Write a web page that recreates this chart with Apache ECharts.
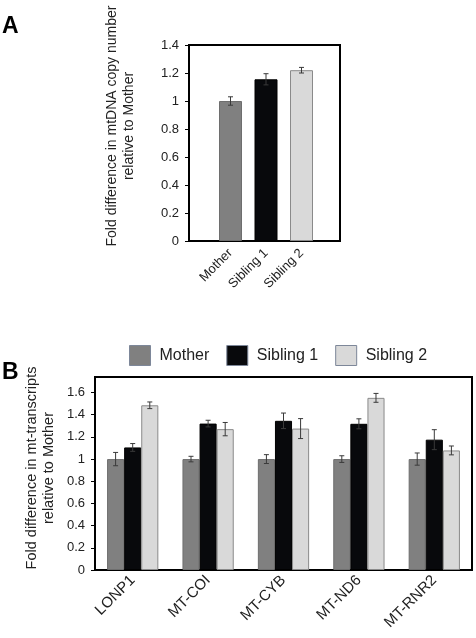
<!DOCTYPE html>
<html><head><meta charset="utf-8">
<script src="https://cdn.jsdelivr.net/npm/echarts@6/dist/echarts.min.js"></script>
<style>html,body{margin:0;padding:0;background:#fff}#c{width:476px;height:638px}</style>
</head><body><div id="c"></div>
<script>
// ---- Panel A data ----
const catsA = ['Mother', 'Sibling 1', 'Sibling 2'];
const valsA = [1.0, 1.155, 1.22];
const errA = [0.03, 0.04, 0.02];
// ---- Panel B data ----
const genes = ['LONP1', 'MT-COI', 'MT-CYB', 'MT-ND6', 'MT-RNR2'];
const seriesNames = ['Mother', 'Sibling 1', 'Sibling 2'];
const mother = [1.0, 1.0, 1.0, 1.0, 1.0];
const motherErr = [0.06, 0.025, 0.04, 0.03, 0.055];
const sib1 = [1.105, 1.32, 1.345, 1.318, 1.175];
const sib1Err = [0.035, 0.03, 0.07, 0.045, 0.09];
const sib2 = [1.485, 1.27, 1.275, 1.552, 1.078];
const sib2Err = [0.03, 0.06, 0.09, 0.04, 0.04];

const colors = ['#808080', '#08090c', '#d9d9d9'];
const borders = ['#6e6e6e', '#000000', '#8a8a8a'];
const FONT = 'Liberation Sans, Arial, sans-serif';

const chart = echarts.init(document.getElementById('c'));

function errRender(offsetIdx, nSeries, gapRatio) {
  return function (params, api) {
    const x = api.value(0), v = api.value(1), e = api.value(2);
    const band = api.size([1, 0])[0];
    let off = 0;
    if (nSeries > 1) {
      const bw = band * (1 - gapRatio) / nSeries;
      off = (offsetIdx - (nSeries - 1) / 2) * bw;
    }
    const hi = api.coord([x, v + e]);
    const lo = api.coord([x, v - e]);
    const cx = hi[0] + off;
    const cap = 2.5;
    const st = { stroke: '#3a3a3a', lineWidth: 1 };
    return {
      type: 'group',
      children: [
        { type: 'line', shape: { x1: cx, y1: hi[1], x2: cx, y2: lo[1] }, style: st },
        { type: 'line', shape: { x1: cx - cap, y1: hi[1], x2: cx + cap, y2: hi[1] }, style: st },
        { type: 'line', shape: { x1: cx - cap, y1: lo[1], x2: cx + cap, y2: lo[1] }, style: st }
      ]
    };
  };
}

const bVals = [mother, sib1, sib2];
const bErrs = [motherErr, sib1Err, sib2Err];

const series = [];
series.push({
  type: 'bar', xAxisIndex: 1, yAxisIndex: 1, barWidth: 23,
  data: valsA.map((v, i) => ({ value: v, itemStyle: { color: colors[i], borderColor: borders[i], borderWidth: 1 } })),
  silent: true, z: 2
});
series.push({
  type: 'custom', xAxisIndex: 1, yAxisIndex: 1, z: 5,
  renderItem: errRender(0, 1, 0),
  data: valsA.map((v, i) => [i, v, errA[i]])
});
seriesNames.forEach((nm, k) => {
  series.push({
    name: nm, type: 'bar', xAxisIndex: 2, yAxisIndex: 2,
    barGap: '0%', barCategoryGap: '32%',
    itemStyle: { color: colors[k], borderColor: borders[k], borderWidth: 1 },
    data: bVals[k], z: 2
  });
});
seriesNames.forEach((nm, k) => {
  series.push({
    type: 'custom', xAxisIndex: 2, yAxisIndex: 2, z: 5,
    renderItem: errRender(k, 3, 0.32),
    data: bVals[k].map((v, i) => [i, v, bErrs[k][i]])
  });
});

const yLabel = { color: '#222', fontFamily: FONT, fontSize: 13, margin: 10 };

chart.setOption({
  animation: false,
  textStyle: { fontFamily: FONT },
  legend: {
    data: seriesNames, left: 129, top: 345, icon: 'rect', padding: 0,
    itemWidth: 21, itemHeight: 20, itemGap: 17,
    itemStyle: { borderColor: '#7d8799', borderWidth: 1 },
    textStyle: { fontSize: 16, color: '#222', fontFamily: FONT, padding: [0, 0, 0, 4] }
  },
  grid: [
    { left: 189, top: 45, width: 151, height: 196, show: true, borderColor: '#000', borderWidth: 2 },
    { left: 212.75, top: 45, width: 106.5, height: 196 },
    { left: 95, top: 377, width: 377, height: 193, show: true, borderColor: '#000', borderWidth: 2 }
  ],
  xAxis: [
    { gridIndex: 0, type: 'value', min: 0, max: 1, show: false },
    { gridIndex: 1, type: 'category', data: catsA, axisLine: { show: false }, axisTick: { show: false },
      axisLabel: { rotate: 45, fontSize: 13, color: '#222', fontFamily: FONT, margin: 10, interval: 0 } },
    { gridIndex: 2, type: 'category', data: genes, axisLine: { show: false }, axisTick: { show: false },
      axisLabel: { rotate: 45, fontSize: 15, color: '#222', fontFamily: FONT, margin: 8, interval: 0 } }
  ],
  yAxis: [
    { gridIndex: 0, type: 'value', min: 0, max: 1.4, interval: 0.2,
      axisLine: { show: false }, axisTick: { show: true, length: 4, lineStyle: { color: '#000' } },
      splitLine: { show: false }, axisLabel: yLabel },
    { gridIndex: 1, type: 'value', min: 0, max: 1.4, show: false, splitLine: { show: false } },
    { gridIndex: 2, type: 'value', min: 0, max: 1.74, interval: 0.2,
      axisLine: { show: false }, axisTick: { show: true, length: 4, lineStyle: { color: '#000' } },
      splitLine: { show: false }, axisLabel: Object.assign({ showMaxLabel: false }, yLabel) }
  ],
  graphic: [
    { type: 'text', left: 2, top: 15, style: { text: 'A', font: 'bold 23px ' + FONT, fill: '#000' } },
    { type: 'text', left: 2, top: 361, style: { text: 'B', font: 'bold 23px ' + FONT, fill: '#000' } },
    { type: 'text', x: 121, y: 126, rotation: Math.PI / 2,
      style: { text: 'Fold difference in mtDNA copy number\nrelative to Mother', font: '14px ' + FONT,
               fill: '#222', align: 'center', verticalAlign: 'middle', lineHeight: 17 } },
    { type: 'text', x: 40, y: 468, rotation: Math.PI / 2,
      style: { text: 'Fold difference in mt-transcripts\nrelative to Mother', font: '14.5px ' + FONT,
               fill: '#222', align: 'center', verticalAlign: 'middle', lineHeight: 17 } }
  ],
  series: series
});
</script>
</body></html>
